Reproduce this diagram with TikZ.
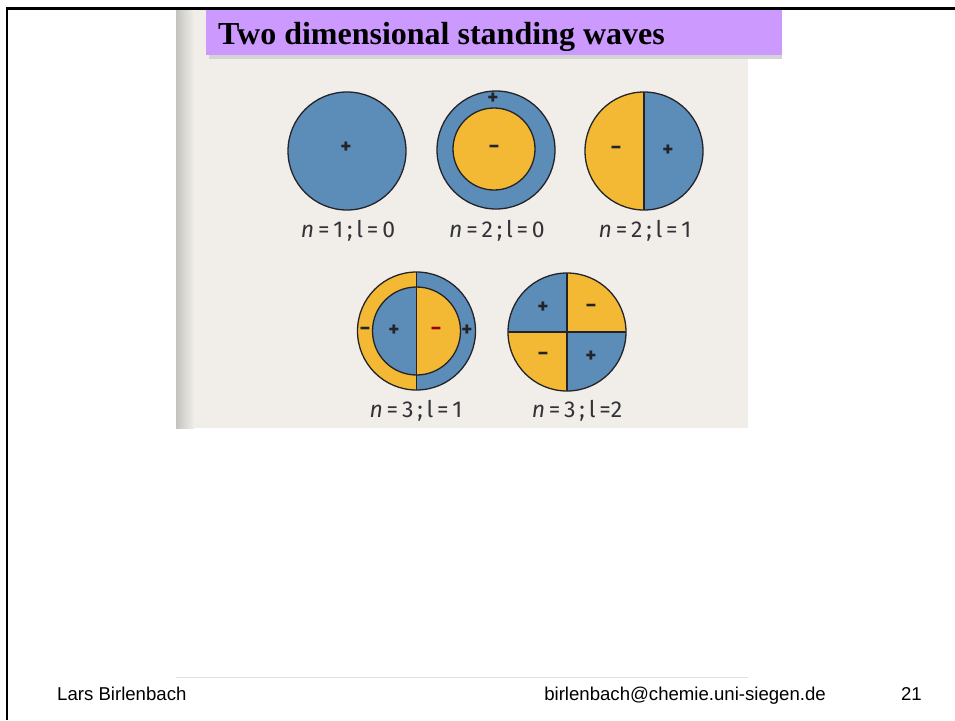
\documentclass[tikz,border=0pt]{standalone}
\usepackage{fontspec}
\setmainfont{Liberation Serif}
\newfontfamily\labfont{Fira Sans}
\newfontfamily\footfont{Liberation Sans}
\definecolor{wblue}{RGB}{92,140,184}
\definecolor{wyel}{RGB}{243,185,52}
\definecolor{photo}{RGB}{241,238,234}
\definecolor{stripdark}{RGB}{196,196,190}
\definecolor{titlebg}{RGB}{204,153,255}
\definecolor{shadowgray}{RGB}{212,212,212}
\definecolor{ink}{RGB}{35,35,40}
\definecolor{labink}{RGB}{50,50,55}
\tikzset{
  rim/.style={draw=ink, line width=1.3pt},
  sign/.style={font=\labfont\bfseries\fontsize{21}{21}\selectfont, text=ink, inner sep=0pt},
  wlabel/.style={font=\labfont\fontsize{23}{23}\selectfont, text=labink, inner sep=0pt,
    execute at begin node={\spaceskip=3.8pt\relax}},
  foot/.style={font=\footfont\fontsize{18.6}{18.6}\selectfont, inner sep=0pt, anchor=base west},
}
\begin{document}
\begin{tikzpicture}[x=1pt,y=-1pt]
\useasboundingbox (0,0) rectangle (955,720);
\fill[white] (0,0) rectangle (955,720);
% photo background
\fill[photo] (176,10) rectangle (748,428);
\shade[left color=stripdark, right color=photo] (176,10) rectangle (194,428);
% title bar
\fill[shadowgray] (209,14) rectangle (782,59);
\fill[titlebg] (206,10) rectangle (782,55);
\node[font=\bfseries\fontsize{32}{32}\selectfont, anchor=base west, inner sep=0pt] (title) at (218,44) {Two dimensional standing waves};
% frame
\draw[line width=2.5pt] (955,8.5) -- (7,8.5) -- (7,720);
% footer line
\draw[line width=1pt, color=black!12] (176,677) -- (748,677);
% circle 1
\fill[wblue] (347,151) circle[radius=59];
\draw[rim] (347,151) circle[radius=59];
\node[sign] (s1) at (346,148) {+};
\node[wlabel] (l1) at (348,231) {{\itshape n} = 1 ; l = 0};
% circle 2
\fill[wblue] (496,150) circle[radius=59];
\fill[wyel] (494,149) circle[radius=41];
\draw[rim] (494,149) circle[radius=41];
\draw[rim] (496,150) circle[radius=59];
\node[sign] (s2a) at (493,99) {+};
\node[sign] (s2b) at (494,149) {−};
\node[wlabel] (l2) at (497,231) {{\itshape n} = 2 ; l = 0};
% circle 3
\fill[wblue] (644,151) circle[radius=59];
\fill[wyel] (644,210) arc[start angle=90, end angle=270, radius=59] -- cycle;
\draw[rim] (644,92) -- (644,210);
\draw[rim] (644,151) circle[radius=59];
\node[sign] (s3a) at (616,150) {−};
\node[sign] (s3b) at (668,151) {+};
\node[wlabel] (l3) at (645,231) {{\itshape n} = 2 ; l = 1};
% circle 4
\fill[wblue] (416.5,331) circle[radius=59];
\fill[wyel] (416.5,390) arc[start angle=90, end angle=270, radius=59] -- cycle;
\fill[wblue] (416.5,375) arc[start angle=90, end angle=270, radius=44] -- cycle;
\fill[wyel] (416.5,375) arc[start angle=90, end angle=-90, radius=44] -- cycle;
\draw[rim] (416.5,331) circle[radius=44];
\draw[rim] (416.5,272) -- (416.5,390);
\draw[rim] (416.5,331) circle[radius=59];
\node[sign] (s4a) at (365,331) {−};
\node[sign] (s4b) at (394,331) {+};
\node[sign, text=red!60!black] (s4c) at (436,331) {−};
\node[sign] (s4d) at (467,331) {+};
\node[wlabel] (l4) at (416,411) {{\itshape n} = 3 ; l = 1};
% circle 5
\fill[wblue] (567,332) circle[radius=59];
\fill[wyel] (567,332) -- (626,332) arc[start angle=0, end angle=-90, radius=59] -- cycle;
\fill[wyel] (567,332) -- (508,332) arc[start angle=180, end angle=90, radius=59] -- cycle;
\draw[rim] (508,332) -- (626,332);
\draw[rim] (567,273) -- (567,391);
\draw[rim] (567,332) circle[radius=59];
\node[sign] (s5a) at (543,308) {+};
\node[sign] (s5b) at (591,308) {−};
\node[sign] (s5c) at (543,356) {−};
\node[sign] (s5d) at (591,357) {+};
\node[wlabel] (l5) at (577,411) {{\itshape n} = 3 ; l =2};
% footer
\node[foot] (author) at (57,700) {Lars Birlenbach};
\node[foot, anchor=base east] (mail) at (826,700) {birlenbach@chemie.uni-siegen.de};
\node[foot, anchor=base east] (page) at (922,700) {21};
\end{tikzpicture}
\end{document}
